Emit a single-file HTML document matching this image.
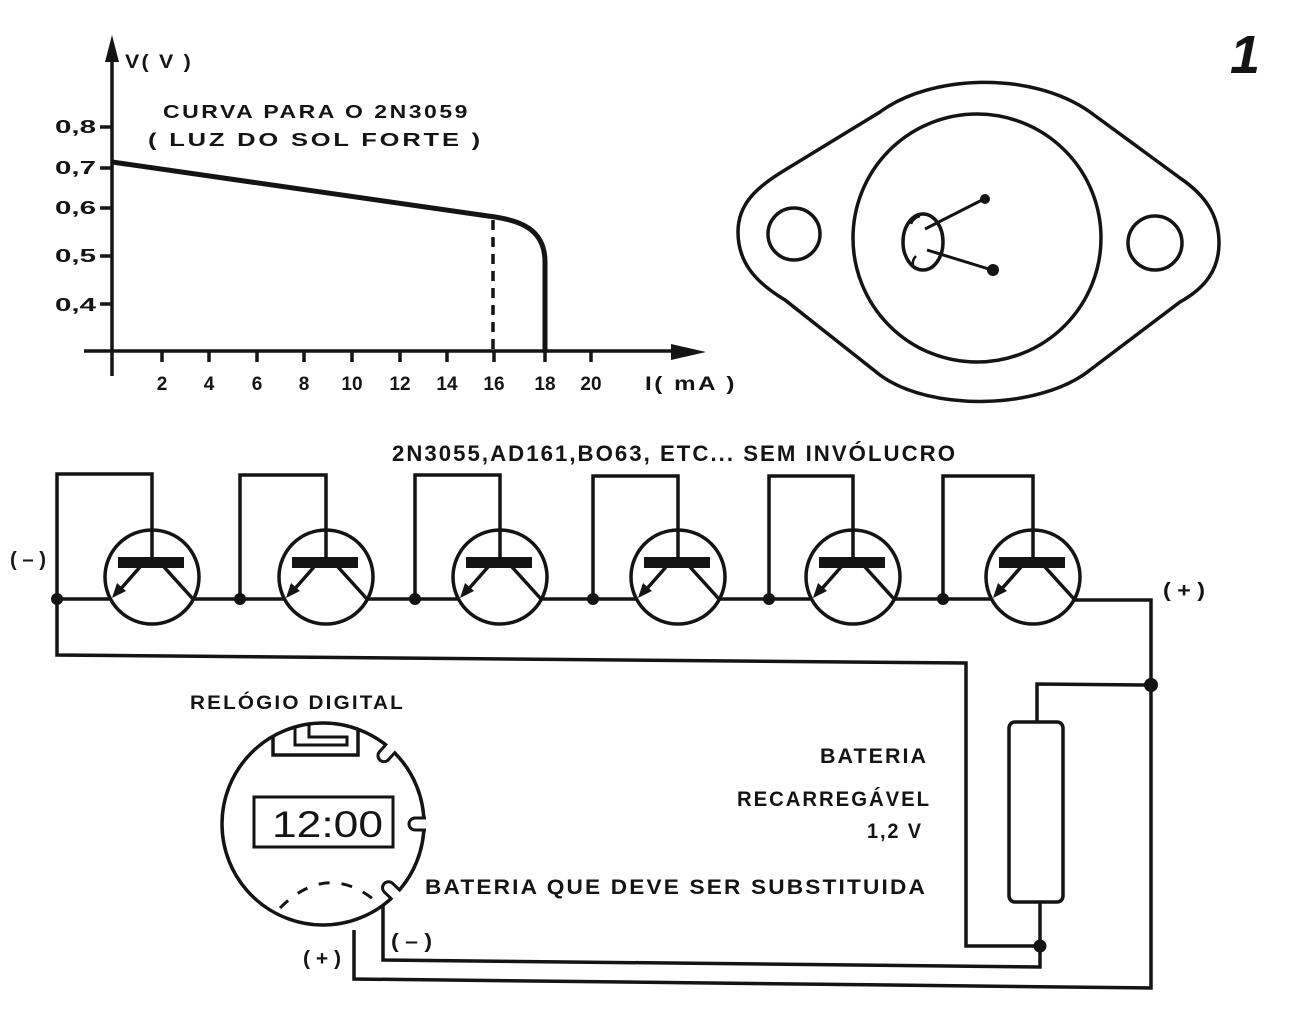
<!DOCTYPE html>
<html>
<head>
<meta charset="utf-8">
<style>
html,body{margin:0;padding:0;background:#fff;}
svg{display:block;}
text{font-family:"Liberation Sans",sans-serif;font-weight:bold;fill:#141414;}
.n{font-weight:normal;}
.ls{letter-spacing:2px;}
</style>
</head>
<body>
<svg width="1316" height="1034" viewBox="0 0 1316 1034" xmlns="http://www.w3.org/2000/svg">
<rect width="1316" height="1034" fill="#fff"/>

<!-- ================= GRAPH ================= -->
<g stroke="#141414" fill="none" stroke-width="3.5">
  <line x1="112" y1="55" x2="112" y2="376"/>
  <line x1="84" y1="351" x2="680" y2="351"/>
  <line x1="100" y1="127" x2="112" y2="127"/>
  <line x1="100" y1="168" x2="112" y2="168"/>
  <line x1="100" y1="208" x2="112" y2="208"/>
  <line x1="100" y1="256" x2="112" y2="256"/>
  <line x1="100" y1="304" x2="112" y2="304"/>
  <line x1="162" y1="351" x2="162" y2="362"/>
  <line x1="209" y1="351" x2="209" y2="362"/>
  <line x1="257" y1="351" x2="257" y2="362"/>
  <line x1="304" y1="351" x2="304" y2="362"/>
  <line x1="352" y1="351" x2="352" y2="362"/>
  <line x1="400" y1="351" x2="400" y2="362"/>
  <line x1="447" y1="351" x2="447" y2="362"/>
  <line x1="494" y1="351" x2="494" y2="362"/>
  <line x1="545" y1="351" x2="545" y2="362"/>
  <line x1="591" y1="351" x2="591" y2="362"/>
  <path d="M112 162 L488 216 C522 220 545 230 545 262 L545 352" stroke-width="5"/>
  <line x1="493" y1="220" x2="493" y2="350" stroke-width="3.5" stroke-dasharray="10 7"/>
</g>
<polygon points="112,35 105,62 119,62" fill="#141414"/>
<polygon points="706,352 671,344 671,360" fill="#141414"/>

<text x="125" y="68" font-size="19" class="ls" textLength="68" lengthAdjust="spacingAndGlyphs">V( V )</text>
<text x="163" y="118" font-size="18" class="ls" textLength="307" lengthAdjust="spacingAndGlyphs">CURVA PARA O 2N3059</text>
<text x="148" y="146" font-size="18" class="ls" textLength="335" lengthAdjust="spacingAndGlyphs">( LUZ DO SOL FORTE )</text>

<g font-size="18">
  <text x="55" y="133" textLength="41" lengthAdjust="spacingAndGlyphs">0,8</text>
  <text x="55" y="174" textLength="41" lengthAdjust="spacingAndGlyphs">0,7</text>
  <text x="55" y="214" textLength="41" lengthAdjust="spacingAndGlyphs">0,6</text>
  <text x="55" y="262" textLength="41" lengthAdjust="spacingAndGlyphs">0,5</text>
  <text x="55" y="311" textLength="41" lengthAdjust="spacingAndGlyphs">0,4</text>
</g>
<g font-size="19" text-anchor="middle">
  <text x="162" y="390">2</text>
  <text x="209" y="390">4</text>
  <text x="257" y="390">6</text>
  <text x="304" y="390">8</text>
  <text x="352" y="390">10</text>
  <text x="400" y="390">12</text>
  <text x="447" y="390">14</text>
  <text x="494" y="390">16</text>
  <text x="545" y="390">18</text>
  <text x="591" y="390">20</text>
</g>
<text x="645" y="390" font-size="19" class="ls" textLength="92" lengthAdjust="spacingAndGlyphs">I( mA )</text>

<text x="1230" y="73" font-size="54" font-style="italic">1</text>

<!-- ================= TO-3 PACKAGE ================= -->
<g stroke="#141414" fill="none" stroke-width="3.5">
  <path d="M738 232 C738 205 755 188 785 170 L880 112 C930 75 1030 70 1090 112 L1180 178 C1205 195 1219 215 1219 243 C1219 270 1205 288 1180 302 L1090 370 C1040 410 930 412 880 375 L785 300 C755 282 738 262 738 232 Z"/>
  <circle cx="977" cy="238" r="124"/>
  <circle cx="794" cy="234" r="26"/>
  <circle cx="1155" cy="243" r="27"/>
  <ellipse cx="923" cy="242" rx="20" ry="28"/>
  <path d="M911 224 Q913 218 920 216" stroke-width="2.5"/>
  <path d="M913 265 Q912 260 916 256" stroke-width="2.5"/>
  <line x1="925" y1="229" x2="984" y2="199" stroke-width="3"/>
  <line x1="927" y1="250" x2="992" y2="270" stroke-width="3"/>
</g>
<circle cx="985" cy="199" r="5" fill="#141414"/>
<circle cx="993" cy="270" r="6" fill="#141414"/>

<!-- ================= TRANSISTOR ARRAY ================= -->
<text x="392" y="461" font-size="22" class="ls" textLength="565" lengthAdjust="spacingAndGlyphs">2N3055,AD161,BO63, ETC... SEM INVÓLUCRO</text>

<g stroke="#141414" fill="none" stroke-width="3.5">
  <polyline points="57,599 57,474 152,474 152,557"/>
  <polyline points="240,599 240,475 326,475 326,557"/>
  <polyline points="415,599 415,475 500,475 500,557"/>
  <polyline points="593,599 593,476 678,476 678,557"/>
  <polyline points="769,599 769,476 853,476 853,557"/>
  <polyline points="943,599 943,476 1033,476 1033,557"/>
  <line x1="57" y1="599" x2="111" y2="599"/>
  <line x1="193" y1="599" x2="285" y2="599"/>
  <line x1="367" y1="599" x2="459" y2="599"/>
  <line x1="541" y1="599" x2="637" y2="599"/>
  <line x1="719" y1="599" x2="812" y2="599"/>
  <line x1="894" y1="599" x2="992" y2="599"/>
  <polyline points="1074,600 1151,600 1151,988 354,979 354,930"/>
  <polyline points="57,599 57,655 966,663 966,946 1040,946"/>
  <polyline points="1151,685 1037,684 1037,722"/>
  <rect x="1009" y="722" width="54" height="180" rx="6"/>
  <polyline points="1040,902 1040,967 383,960 383,905"/>
</g>

<g stroke="#141414" fill="none" stroke-width="3.5">
  <g transform="translate(152 0)">
    <circle cx="0" cy="577" r="47"/>
    <line x1="-12" y1="567" x2="-34" y2="592"/>
    <line x1="12" y1="567" x2="41" y2="599"/>
  </g>
  <g transform="translate(326 0)">
    <circle cx="0" cy="577" r="47"/>
    <line x1="-12" y1="567" x2="-34" y2="592"/>
    <line x1="12" y1="567" x2="41" y2="599"/>
  </g>
  <g transform="translate(500 0)">
    <circle cx="0" cy="577" r="47"/>
    <line x1="-12" y1="567" x2="-34" y2="592"/>
    <line x1="12" y1="567" x2="41" y2="599"/>
  </g>
  <g transform="translate(678 0)">
    <circle cx="0" cy="577" r="47"/>
    <line x1="-12" y1="567" x2="-34" y2="592"/>
    <line x1="12" y1="567" x2="41" y2="599"/>
  </g>
  <g transform="translate(853 0)">
    <circle cx="0" cy="577" r="47"/>
    <line x1="-12" y1="567" x2="-34" y2="592"/>
    <line x1="12" y1="567" x2="41" y2="599"/>
  </g>
  <g transform="translate(1033 0)">
    <circle cx="0" cy="577" r="47"/>
    <line x1="-12" y1="567" x2="-34" y2="592"/>
    <line x1="12" y1="567" x2="41" y2="599"/>
  </g>
</g>
<g fill="#141414">
  <g transform="translate(152 0)"><rect x="-34" y="557" width="66" height="11"/><polygon points="-40,598 -26,591 -35,583"/></g>
  <g transform="translate(326 0)"><rect x="-34" y="557" width="66" height="11"/><polygon points="-40,598 -26,591 -35,583"/></g>
  <g transform="translate(500 0)"><rect x="-34" y="557" width="66" height="11"/><polygon points="-40,598 -26,591 -35,583"/></g>
  <g transform="translate(678 0)"><rect x="-34" y="557" width="66" height="11"/><polygon points="-40,598 -26,591 -35,583"/></g>
  <g transform="translate(853 0)"><rect x="-34" y="557" width="66" height="11"/><polygon points="-40,598 -26,591 -35,583"/></g>
  <g transform="translate(1033 0)"><rect x="-34" y="557" width="66" height="11"/><polygon points="-40,598 -26,591 -35,583"/></g>
  <circle cx="57" cy="599" r="6"/>
  <circle cx="240" cy="599" r="6"/>
  <circle cx="415" cy="599" r="6"/>
  <circle cx="593" cy="599" r="6"/>
  <circle cx="769" cy="599" r="6"/>
  <circle cx="943" cy="599" r="6"/>
  <circle cx="1151" cy="685" r="7"/>
  <circle cx="1040" cy="946" r="6.5"/>
</g>

<text x="10" y="566" font-size="20" textLength="36" lengthAdjust="spacingAndGlyphs">( – )</text>
<text x="1163" y="597" font-size="20" textLength="42" lengthAdjust="spacingAndGlyphs">( + )</text>

<!-- ================= WATCH ================= -->
<text x="190" y="709" font-size="19" class="ls" textLength="215" lengthAdjust="spacingAndGlyphs">RELÓGIO DIGITAL</text>
<g stroke="#141414" fill="none" stroke-width="3.5">
  <circle cx="323" cy="824" r="101"/>
  <polyline points="273,736 273,755 358,755 358,729"/>
  <polyline points="295,727 295,745 347,745 347,737 309,737 309,725" stroke-width="3"/>
  <rect x="254" y="797" width="139" height="50" stroke-width="3"/>
  <path d="M280 908 Q328 860 378 903" stroke-width="3" stroke-dasharray="11 12"/>
</g>
<g stroke="#141414" stroke-width="3" fill="#fff">
  <g transform="translate(390 749) rotate(-48)">
    <rect x="-2" y="-6" width="5" height="12" stroke="none"/>
    <path d="M2 -6 L-9 -6 A6 6 0 0 0 -9 6 L2 6"/>
  </g>
  <g transform="translate(424 824)">
    <rect x="-2" y="-6" width="5" height="12" stroke="none"/>
    <path d="M2 -6 L-9 -6 A6 6 0 0 0 -9 6 L2 6"/>
  </g>
  <g transform="translate(395 894) rotate(44)">
    <rect x="-2" y="-6" width="5" height="12" stroke="none"/>
    <path d="M2 -6 L-9 -6 A6 6 0 0 0 -9 6 L2 6"/>
  </g>
</g>
<text x="272" y="837" font-size="37" class="n" textLength="111" lengthAdjust="spacingAndGlyphs">12:00</text>

<text x="303" y="965" font-size="20" textLength="38" lengthAdjust="spacingAndGlyphs">( + )</text>
<text x="391" y="948" font-size="20" textLength="41" lengthAdjust="spacingAndGlyphs">( – )</text>

<text x="425" y="894" font-size="21" class="ls" textLength="502" lengthAdjust="spacingAndGlyphs">BATERIA QUE DEVE SER SUBSTITUIDA</text>

<text x="820" y="763" font-size="21" class="ls" textLength="108" lengthAdjust="spacingAndGlyphs">BATERIA</text>
<text x="737" y="806" font-size="21" class="ls" textLength="194" lengthAdjust="spacingAndGlyphs">RECARREGÁVEL</text>
<text x="867" y="838" font-size="21" class="ls" textLength="56" lengthAdjust="spacingAndGlyphs">1,2 V</text>
</svg>
</body>
</html>
